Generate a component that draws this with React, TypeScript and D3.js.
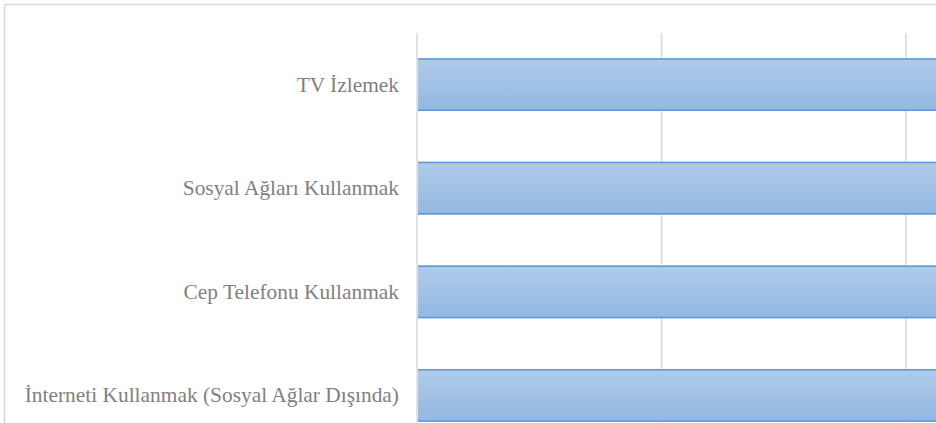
import React from "react";
import * as d3 from "d3";

const categories = [
  "TV İzlemek",
  "Sosyal Ağları Kullanmak",
  "Cep Telefonu Kullanmak",
  "İnterneti Kullanmak (Sosyal Ağlar Dışında)",
];
const values = [52, 50, 48, 46];
const xTicks = [0, 10, 20, 30, 40, 50, 60];

export default function App() {
  const W = 936;
  const H = 423;
  const x = d3.scaleLinear().domain([0, 60]).range([417, 417 + 244.5 * 6]);
  const y = d3
    .scaleBand<string>()
    .domain(categories)
    .range([32.8, 32.8 + 103.6 * 4])
    .paddingInner(0.49)
    .paddingOuter(0.245);
  return (
    <div style={{ position: "fixed", left: 0, top: 0, width: W, height: H, overflow: "hidden", background: "#fff" }}>
      <svg width={W} height={H} style={{ display: "block" }}>
        <defs>
          <linearGradient id="barGrad" x1="0" y1="0" x2="0" y2="1">
            <stop offset="0" stopColor="#b0cbe9" />
            <stop offset="1" stopColor="#93b8e3" />
          </linearGradient>
        </defs>
        <rect x={4.5} y={4.5} width={W + 50} height={H + 50} fill="#fff" stroke="#d9d9d9" strokeWidth={1.5} />
        {xTicks.map((t) => (
          <line key={t} x1={x(t)} x2={x(t)} y1={33} y2={H + 30} stroke="#d9d9d9" strokeWidth={1.5} />
        ))}
        {categories.map((c, i) => {
          const y0 = y(c)!;
          const bw = y.bandwidth();
          return (
            <g key={c}>
              <rect x={x(0) + 1} y={y0} width={x(values[i]) - x(0)} height={bw} fill="url(#barGrad)" />
              <line x1={x(0) + 1} x2={x(values[i])} y1={y0 + 0.75} y2={y0 + 0.75} stroke="#5b9bd5" strokeWidth={1.5} />
              <line x1={x(0) + 1} x2={x(values[i])} y1={y0 + bw - 0.75} y2={y0 + bw - 0.75} stroke="#5b9bd5" strokeWidth={1.5} />
              <text
                x={399}
                y={y0 + bw / 2 + 7}
                textAnchor="end"
                style={{ fontFamily: "'Liberation Serif', 'Times New Roman', Times, serif" }}
                fontSize={21.4}
                fill="#7f7f7f"
              >
                {c}
              </text>
            </g>
          );
        })}
      </svg>
    </div>
  );
}
